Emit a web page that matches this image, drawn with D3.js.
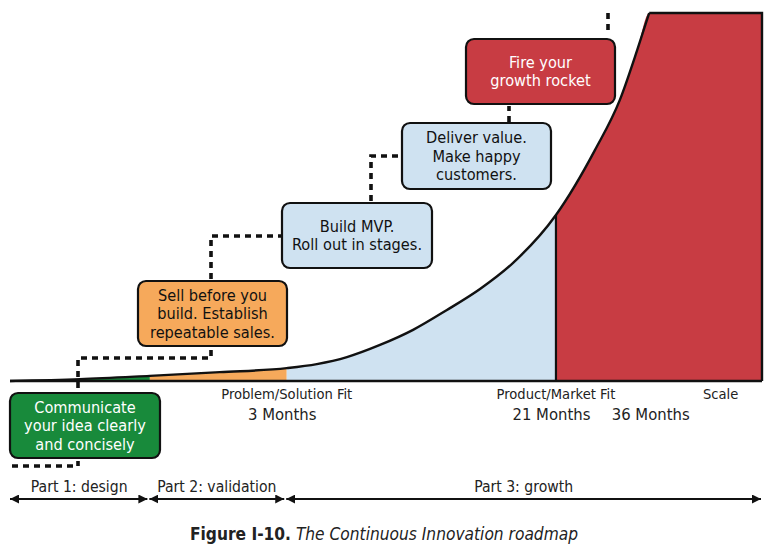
<!DOCTYPE html>
<html>
<head>
<meta charset="utf-8">
<script src="https://cdn.jsdelivr.net/npm/d3@7"></script>
<style>
  html, body { margin: 0; padding: 0; background: #fff; }
  svg text { font-family: "DejaVu Sans Condensed", "DejaVu Sans", sans-serif; font-stretch: condensed; }
</style>
</head>
<body>
<svg id="chart" width="768" height="550"></svg>
<script>
// ---------- DATA ----------
// growth curve, progress (0-100) vs traction (0-100)
const curveX = [0, 9.3, 18.6, 27.9, 36.8, 40.8, 44.8, 49.2, 53.6, 58.1, 62.5, 66.9, 72.6, 77.8, 81.1, 83.4, 85.0];
const curveY = [0, 0.5, 1.4, 2.4, 3.5, 4.6, 6.5, 9.8, 13.9, 19.3, 25.0, 32.1, 45.1, 62.8, 76.4, 89.9, 100];
const plateauEnd = 100;

// phases (fill bands)
const phaseBounds = [0, 18.6, 36.8, 72.6, 100];
const phaseColors = ["#188a3b", "#f6a95b", "#cfe2f1", "#c83c43"];

// step boxes
const stepTexts = [
  ["Communicate", "your idea clearly", "and concisely"],
  ["Sell before you", "build. Establish", "repeatable sales."],
  ["Build MVP.", "Roll out in stages."],
  ["Deliver value.", "Make happy", "customers."],
  ["Fire your", "growth rocket"]
];
const stepFills = ["#188a3b", "#f6a95b", "#cfe2f1", "#cfe2f1", "#c83c43"];
const stepTextColors = ["#ffffff", "#111111", "#111111", "#111111", "#ffffff"];

// milestone labels
const milestoneNames = ["Problem/Solution Fit", "Product/Market Fit", "Scale"];
const milestoneNameX = [36.8, 72.6, 94.5];
const durationLabels = ["3 Months", "21 Months", "36 Months"];
const durationX = [36.2, 72.0, 85.2];

// parts (bottom arrows)
const partLabels = ["Part 1: design", "Part 2: validation", "Part 3: growth"];
const partBounds = [0, 18.4, 36.6, 100];

const captionBold = "Figure I-10.";
const captionItalic = " The Continuous Innovation roadmap";

// ---------- LAYOUT ----------
const svg = d3.select("#chart");
const x = d3.scaleLinear().domain([0, 100]).range([10, 762]);
const y = d3.scaleLinear().domain([0, 100]).range([381, 13]);

const pts = curveX.map((d, i) => [d, curveY[i]]);
const topPts = pts.concat([[plateauEnd, 100]]);

const area = d3.area()
  .x(d => x(d[0])).y0(y(0)).y1(d => y(d[1]))
  .curve(d3.curveMonotoneX);

const defs = svg.append("defs");
phaseColors.forEach((c, i) => {
  defs.append("clipPath").attr("id", "ph" + i)
    .append("rect")
    .attr("x", x(phaseBounds[i])).attr("y", 0)
    .attr("width", x(phaseBounds[i + 1]) - x(phaseBounds[i]))
    .attr("height", y(0) + 1);
  svg.append("path")
    .datum(topPts)
    .attr("d", area)
    .attr("fill", c)
    .attr("clip-path", "url(#ph" + i + ")");
});

// curve outline + red block edges
const line = d3.line().x(d => x(d[0])).y(d => y(d[1])).curve(d3.curveMonotoneX);
svg.append("path").datum(pts).attr("d", line)
  .attr("fill", "none").attr("stroke", "#111").attr("stroke-width", 2.4);
svg.append("path")
  .attr("d", d3.line()([[x(curveX[curveX.length - 1]), y(100)], [x(plateauEnd), y(100)], [x(plateauEnd), y(0)]]))
  .attr("fill", "none").attr("stroke", "#111").attr("stroke-width", 2.4);
// vertical divider at product/market fit
const pmfIdx = curveX.indexOf(72.6);
svg.append("line")
  .attr("x1", x(72.6)).attr("x2", x(72.6))
  .attr("y1", y(0)).attr("y2", y(curveY[pmfIdx]))
  .attr("stroke", "#111").attr("stroke-width", 2.2);
// baseline
svg.append("line")
  .attr("x1", x(0)).attr("x2", x(100)).attr("y1", y(0)).attr("y2", y(0))
  .attr("stroke", "#111").attr("stroke-width", 2.4);

// dotted connectors
const dash = { "stroke": "#111", "stroke-width": 3.6, "stroke-dasharray": "6,5", "fill": "none" };
const connectors = [
  [[12, 466], [78, 466], [78, 461]],
  [[78, 388], [78, 358], [211, 358], [211, 349]],
  [[211, 279], [211, 236], [281, 236]],
  [[371, 201], [371, 156], [401, 156]],
  [[509, 122], [509, 106]],
  [[608, 13], [608, 34]]
];
connectors.forEach(c => {
  const p = svg.append("path").attr("d", d3.line()(c));
  Object.entries(dash).forEach(([k, v]) => p.attr(k, v));
});

// step boxes
const boxes = [
  { x0: 10, y0: 393, x1: 160, y1: 458 },
  { x0: 138, y0: 281, x1: 287, y1: 346 },
  { x0: 282, y0: 203, x1: 432, y1: 268 },
  { x0: 402, y0: 123, x1: 551, y1: 189 },
  { x0: 466, y0: 39, x1: 615, y1: 104 }
];
const lh = 18.5;
boxes.forEach((b, i) => {
  svg.append("rect")
    .attr("x", b.x0).attr("y", b.y0)
    .attr("width", b.x1 - b.x0).attr("height", b.y1 - b.y0)
    .attr("rx", 8).attr("ry", 8)
    .attr("fill", stepFills[i]).attr("stroke", "#111").attr("stroke-width", 2.2);
  const lines = stepTexts[i];
  const cx = (b.x0 + b.x1) / 2, cy = (b.y0 + b.y1) / 2;
  const t = svg.append("text")
    .attr("text-anchor", "middle")
    .attr("font-size", 16.2)
    .attr("fill", stepTextColors[i]);
  lines.forEach((s, j) => {
    t.append("tspan").attr("x", cx)
      .attr("y", cy + (j - (lines.length - 1) / 2) * lh)
      .attr("dy", "0.35em")
      .text(s);
  });
});

// milestones
milestoneNames.forEach((s, i) => {
  svg.append("text").attr("x", x(milestoneNameX[i])).attr("y", 394).attr("dy", "0.35em")
    .attr("text-anchor", "middle").attr("font-size", 14.6).attr("fill", "#222").text(s);
});
durationLabels.forEach((s, i) => {
  svg.append("text").attr("x", x(durationX[i])).attr("y", 414).attr("dy", "0.35em")
    .attr("text-anchor", "middle").attr("font-size", 16.5).attr("fill", "#222").text(s);
});

// part arrows
const mk = defs.append("marker").attr("id", "ah").attr("viewBox", "0 0 10 10")
  .attr("refX", 10).attr("refY", 5).attr("markerWidth", 9).attr("markerHeight", 9)
  .attr("markerUnits", "userSpaceOnUse").attr("orient", "auto-start-reverse");
mk.append("path").attr("d", "M0,0 L10,5 L0,10 Z").attr("fill", "#111");
partLabels.forEach((s, i) => {
  const a = x(partBounds[i]) + (i === 0 ? 0 : 1), b = x(partBounds[i + 1]) - 1;
  svg.append("line").attr("x1", a).attr("x2", b).attr("y1", 499).attr("y2", 499)
    .attr("stroke", "#111").attr("stroke-width", 2.2)
    .attr("marker-start", "url(#ah)").attr("marker-end", "url(#ah)");
  svg.append("text").attr("x", (x(partBounds[i]) + x(partBounds[i + 1])) / 2).attr("y", 487).attr("dy", "0.35em")
    .attr("text-anchor", "middle").attr("font-size", 15.6).attr("fill", "#222").text(s);
});

// caption
const cap = svg.append("text").attr("x", 384).attr("y", 540).attr("text-anchor", "middle")
  .attr("font-size", 17.2).attr("fill", "#222");
cap.append("tspan").attr("font-weight", "bold").text(captionBold);
cap.append("tspan").attr("font-style", "italic").text(captionItalic);
</script>
</body>
</html>
